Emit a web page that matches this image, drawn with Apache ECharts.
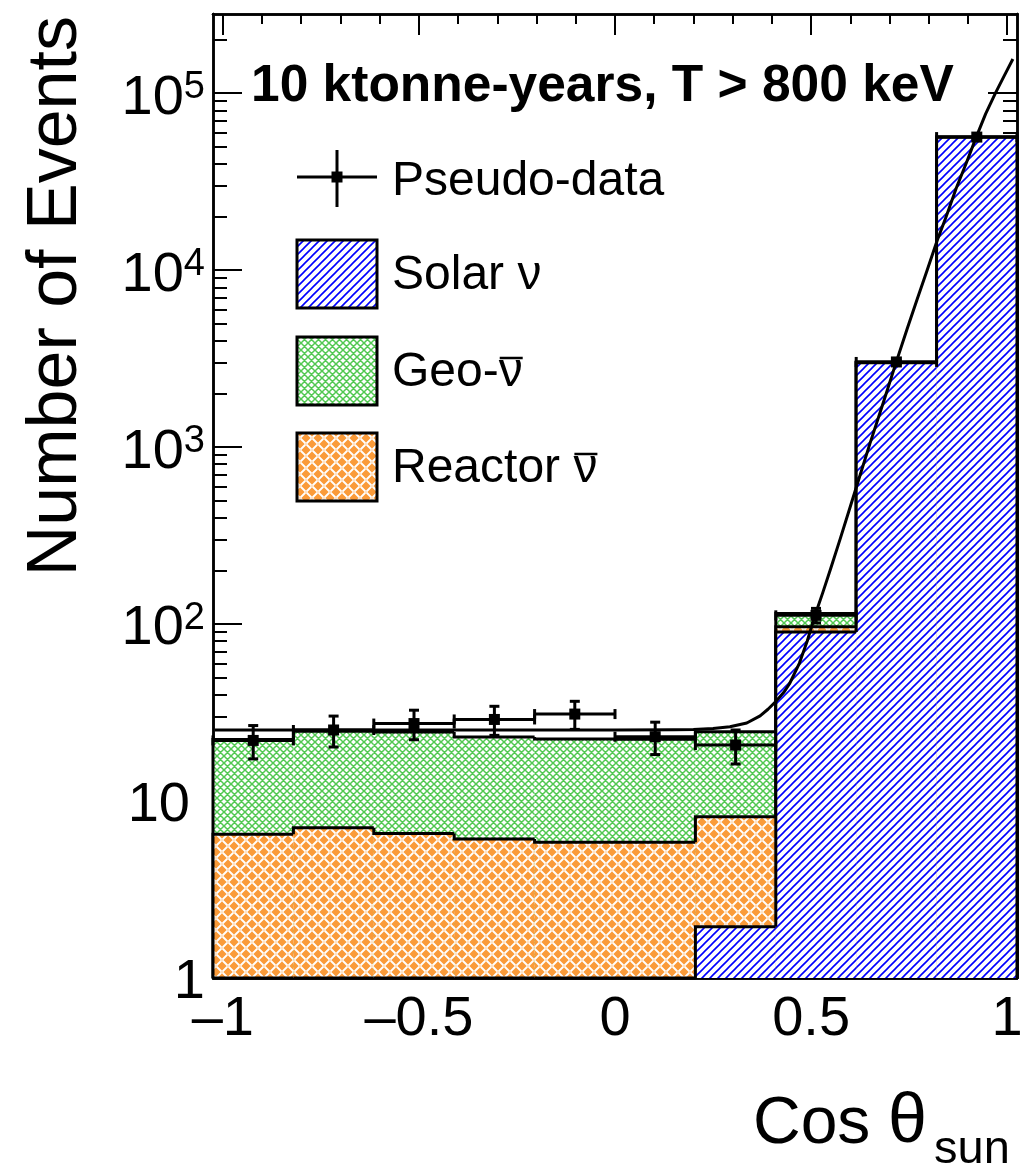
<!DOCTYPE html>
<html>
<head>
<meta charset="utf-8">
<script src="https://cdn.jsdelivr.net/npm/echarts@6/dist/echarts.min.js"></script>
<style>
  html, body { margin: 0; padding: 0; background: #ffffff; }
  #chart { width: 1031px; height: 1170px; }
</style>
</head>
<body>
<div id="chart"></div>
<script>
// Histogram binning in cos(theta_sun)
const binEdges = [-1.025, -0.82, -0.615, -0.41, -0.205, 0, 0.205, 0.41, 0.615, 0.82, 1.025];

// Expected events per bin, by component
const solarNu   = [0, 0, 0, 0, 0, 0, 1.95, 90.3, 3000, 56400];
const reactorNu = [6.5, 7.06, 6.56, 6.1, 5.84, 5.85, 6.2, 6.1, 6.0, 6.0];
const geoNu     = [15.8, 17.7, 18.0, 16.9, 16.6, 16.5, 16.5, 18.4, 17.0, 17.0];

// Pseudo-data points (bin centres, counts, statistical errors)
const dataX   = [-0.9225, -0.7175, -0.5125, -0.3075, -0.1025, 0.1025, 0.3075, 0.5125, 0.7175, 0.9225];
const dataY   = [22.0, 25.2, 27.4, 28.9, 31.0, 23.1, 20.7, 112, 3027, 56450];
const dataErr = [4.7, 5.0, 5.2, 5.4, 5.6, 4.8, 4.5, 10.6, 55, 238];

// Fitted curve (flat background plus forward solar peak)
const fitX = [-1.02, -0.5, 0.0, 0.15, 0.2, 0.25, 0.293, 0.336, 0.37, 0.39, 0.41, 0.43, 0.445, 0.47, 0.49, 0.51,
  0.53, 0.55, 0.575, 0.60, 0.625, 0.65, 0.685, 0.717, 0.745, 0.77, 0.795, 0.821, 0.845, 0.87, 0.895, 0.921,
  0.945, 0.97, 0.993, 1.0145];
const fitY = [25.2, 25.2, 25.2, 25.25, 25.4, 25.7, 26.3, 27.6, 30.3, 33, 36.5, 41, 46, 60, 80, 112,
  151, 206, 307, 462, 696, 1046, 1811, 3020, 4660, 6800, 9860, 14600, 20200, 29000, 39900, 56400,
  76400, 100000, 126000, 156000];

// Axis ticks and labels
const xMajorTicks = [-1, -0.5, 0, 0.5, 1];
const xMinorTicks = [-0.9, -0.8, -0.7, -0.6, -0.4, -0.3, -0.2, -0.1, 0.1, 0.2, 0.3, 0.4, 0.6, 0.7, 0.8, 0.9];
const yMajorTicks = [1, 10, 100, 1000, 10000, 100000];
const yMinorTicks = [2, 3, 4, 5, 6, 7, 8, 9,
  20, 30, 40, 50, 60, 70, 80, 90,
  200, 300, 400, 500, 600, 700, 800, 900,
  2000, 3000, 4000, 5000, 6000, 7000, 8000, 9000,
  20000, 30000, 40000, 50000, 60000, 70000, 80000, 90000,
  200000];

const X_MIN = -1.025, X_MAX = 1.025, Y_MIN = 1, Y_MAX = 2.8e5;
const FONT = "'Liberation Sans', Arial, Helvetica, sans-serif";

// ---- fill patterns ----
function makeTile(w, h, bg, draw) {
  const c = document.createElement('canvas');
  c.width = w; c.height = h;
  const g = c.getContext('2d');
  g.fillStyle = bg; g.fillRect(0, 0, w, h);
  draw(g, w, h);
  return { image: c, repeat: 'repeat' };
}
// single "/" hatch, blue
const solarFill = makeTile(8, 8, '#ffffff', (g) => {
  g.strokeStyle = '#0000ff'; g.lineWidth = 1.6; g.beginPath();
  for (const c of [0, 8, 16]) { g.moveTo(c - 10, 10); g.lineTo(c + 2, -2); }
  g.stroke();
});
// diamond cross-hatch, green
const geoFill = makeTile(7, 7, '#ffffff', (g) => {
  g.strokeStyle = '#52c852'; g.lineWidth = 1.5; g.beginPath();
  for (const c of [-7, 0, 7, 14]) {
    g.moveTo(c - 2, 9); g.lineTo(c + 9, -2);
    g.moveTo(c - 2, -2); g.lineTo(c + 9, 9);
  }
  g.stroke();
});
// basket weave, orange
const reactorFill = makeTile(12, 12, '#fa9b3a', (g) => {
  g.strokeStyle = '#ffffff'; g.lineWidth = 1.8; g.lineCap = 'round'; g.beginPath();
  g.moveTo(1, 5); g.lineTo(5, 1);
  g.moveTo(7, 11); g.lineTo(11, 7);
  g.moveTo(7, 1); g.lineTo(11, 5);
  g.moveTo(1, 7); g.lineTo(5, 11);
  g.stroke();
});

// ---- stacked histogram layers (cumulative sums) ----
const cumSolar   = solarNu.map(v => v);
const cumReactor = solarNu.map((v, i) => v + reactorNu[i]);
const cumTotal   = solarNu.map((v, i) => v + reactorNu[i] + geoNu[i]);

function stackLayer(name, cum, fill, z) {
  const clamp = v => Math.max(v, Y_MIN);
  const data = cum.map((v, i) => [binEdges[i], binEdges[i + 1], clamp(v),
    i === 0 ? Y_MIN : clamp(cum[i - 1]), i === cum.length - 1 ? 1 : 0]);
  return {
    type: 'custom', name, z, xAxisIndex: 0, yAxisIndex: 0,
    data, encode: { x: [0, 1], y: 2 }, silent: true,
    renderItem(params, api) {
      const x0 = api.value(0), x1 = api.value(1), top = api.value(2), prev = api.value(3);
      const pBL = api.coord([x0, Y_MIN]);
      const pTL = api.coord([x0, top]);
      const pTR = api.coord([x1, top]);
      const pPrev = api.coord([x0, prev]);
      const pBR = api.coord([x1, Y_MIN]);
      const pts = [pPrev, pTL, pTR];
      if (api.value(4)) pts.push(pBR);
      return {
        type: 'group',
        children: [
          { type: 'rect', shape: { x: pTL[0], y: pTL[1], width: pTR[0] - pTL[0], height: pBL[1] - pTL[1] },
            style: { fill: fill } },
          { type: 'polyline', shape: { points: pts },
            style: { stroke: '#000000', lineWidth: 3, fill: null } }
        ]
      };
    }
  };
}

// ---- axes ----
function xAxisCfg(position, ticks, len, withLabels) {
  return {
    type: 'value', position, min: X_MIN, max: X_MAX,
    axisLine: { show: true, onZero: false, lineStyle: { color: '#000', width: 2.5 } },
    axisTick: { show: true, inside: true, length: len, customValues: ticks, lineStyle: { color: '#000', width: 2 } },
    axisLabel: withLabels ? {
      show: true, customValues: ticks, margin: 14, color: '#000', fontSize: 56, fontFamily: FONT,
      formatter: v => (v < 0 ? '\u2013' + Math.abs(v) : String(v))
    } : { show: false },
    splitLine: { show: false }
  };
}
function yAxisCfg(position, ticks, len, withLabels) {
  return {
    type: 'log', logBase: 10, position, min: Y_MIN, max: Y_MAX,
    axisLine: { show: true, onZero: false, lineStyle: { color: '#000', width: 2.5 } },
    axisTick: { show: true, inside: true, length: len, customValues: ticks, lineStyle: { color: '#000', width: 2 } },
    axisLabel: withLabels ? {
      show: true, customValues: ticks, margin: 8, color: '#000', padding: [10, 0, 0, 0],
      formatter: v => {
        const n = Math.round(Math.log10(v));
        if (n === 0) return '{one|1}';
        if (n === 1) return '{ten|10}';
        return '{b|10}{s|' + n + '}';
      },
      rich: {
        one: { fontSize: 56, fontFamily: FONT, color: '#000', lineHeight: 60, padding: [0, 0, 0, 0] },
        ten: { fontSize: 56, fontFamily: FONT, color: '#000', lineHeight: 60, padding: [0, 15, 0, 0] },
        b:   { fontSize: 56, fontFamily: FONT, color: '#000', lineHeight: 60 },
        s:   { fontSize: 38, fontFamily: FONT, color: '#000', lineHeight: 38, verticalAlign: 'top' }
      }
    } : { show: false },
    splitLine: { show: false }
  };
}

// ---- pseudo-data with error bars ----
const pointData = dataX.map((x, i) => [x, dataY[i], dataErr[i], binEdges[i], binEdges[i + 1]]);
const pointSeries = {
  type: 'custom', name: 'Pseudo-data', z: 6, xAxisIndex: 0, yAxisIndex: 0,
  data: pointData, encode: { x: 0, y: 1 }, silent: true,
  renderItem(params, api) {
    const x = api.value(0), y = api.value(1), e = api.value(2), x0 = api.value(3), x1 = api.value(4);
    const c = api.coord([x, y]);
    const l = api.coord([x0, y]), r = api.coord([x1, y]);
    const lo = api.coord([x, y - e]), hi = api.coord([x, y + e]);
    const cap = 5, m = 11;
    const ls = { stroke: '#000', lineWidth: 3 };
    const line = (a, b, cc, d) => ({ type: 'line', shape: { x1: a, y1: b, x2: cc, y2: d }, style: ls });
    return {
      type: 'group',
      children: [
        line(l[0], l[1], r[0], r[1]),
        line(l[0], l[1] - cap, l[0], l[1] + cap),
        line(r[0], r[1] - cap, r[0], r[1] + cap),
        line(c[0], lo[1], c[0], hi[1]),
        line(c[0] - cap, lo[1], c[0] + cap, lo[1]),
        line(c[0] - cap, hi[1], c[0] + cap, hi[1]),
        { type: 'rect', shape: { x: c[0] - m / 2, y: c[1] - m / 2, width: m, height: m }, style: { fill: '#000' } }
      ]
    };
  }
};

// ---- text measurement helper ----
const measureCtx = document.createElement('canvas').getContext('2d');
function textWidth(str, size) {
  measureCtx.font = size + 'px ' + FONT;
  return measureCtx.measureText(str).width;
}

// ---- legend drawing ----
const LEG_X = 297, LEG_W = 80, LEG_H = 68, TXT_X = 392, LEG_FONT = 48;
const legendItems = [
  { prefix: 'Solar ', bar: false, fill: solarFill, top: 240 },
  { prefix: 'Geo-', bar: true, fill: geoFill, top: 337 },
  { prefix: 'Reactor ', bar: true, fill: reactorFill, top: 433 }
];
const graphics = [];
// Pseudo-data symbol
graphics.push(
  { type: 'line', z: 100, shape: { x1: LEG_X, y1: 177, x2: LEG_X + LEG_W, y2: 177 }, style: { stroke: '#000', lineWidth: 3 } },
  { type: 'line', z: 100, shape: { x1: LEG_X + LEG_W / 2, y1: 150, x2: LEG_X + LEG_W / 2, y2: 207 }, style: { stroke: '#000', lineWidth: 3 } },
  { type: 'rect', z: 100, shape: { x: LEG_X + LEG_W / 2 - 5.5, y: 177 - 5.5, width: 11, height: 11 }, style: { fill: '#000' } },
  { type: 'text', z: 100, x: TXT_X, y: 182, style: { text: 'Pseudo-data', fontSize: LEG_FONT, fontFamily: FONT, fill: '#000', align: 'left', verticalAlign: 'middle' } }
);
legendItems.forEach(it => {
  const cy = it.top + 36;
  graphics.push(
    { type: 'rect', z: 100, shape: { x: LEG_X, y: it.top, width: LEG_W, height: LEG_H }, style: { fill: it.fill, stroke: '#000', lineWidth: 3 } },
    { type: 'text', z: 100, x: TXT_X, y: cy, style: { text: it.prefix + '\u03bd', fontSize: LEG_FONT, fontFamily: FONT, fill: '#000', align: 'left', verticalAlign: 'middle' } }
  );
  if (it.bar) {
    // overline marking the antineutrino
    const nx = TXT_X + textWidth(it.prefix, LEG_FONT);
    const nw = textWidth('\u03bd', LEG_FONT);
    graphics.push({ type: 'line', z: 100, shape: { x1: nx + 1, y1: cy - 15, x2: nx + nw, y2: cy - 15 }, style: { stroke: '#000', lineWidth: 2.5 } });
  }
});
// Exposure / threshold caption
graphics.push({ type: 'text', z: 100, x: 251, y: 87,
  style: { text: '10 ktonne-years, T > 800 keV', fontSize: 51.5, fontWeight: 'bold', fontFamily: FONT, fill: '#000', align: 'left', verticalAlign: 'middle' } });
// Axis titles
graphics.push({ type: 'text', z: 100, x: 57, y: 16, rotation: Math.PI / 2,
  style: { text: 'Number of Events', fontSize: 70, fontFamily: FONT, fill: '#000', align: 'right', verticalAlign: 'middle' } });
graphics.push({ type: 'text', z: 100, x: 753, y: 1125,
  style: { text: 'Cos', fontSize: 66, fontFamily: FONT, fill: '#000', align: 'left', verticalAlign: 'middle' } });
graphics.push({ type: 'text', z: 100, x: 888, y: 1123,
  style: { text: '\u03b8', fontSize: 70, fontFamily: FONT, fill: '#000', align: 'left', verticalAlign: 'middle' } });
graphics.push({ type: 'text', z: 100, x: 934, y: 1150,
  style: { text: 'sun', fontSize: 47, fontFamily: FONT, fill: '#000', align: 'left', verticalAlign: 'middle' } });

const chart = echarts.init(document.getElementById('chart'), null, { renderer: 'canvas' });
chart.setOption({
  animation: false,
  backgroundColor: '#ffffff',
  textStyle: { fontFamily: FONT },
  grid: { left: 213, right: 14, top: 14, bottom: 192, containLabel: false, outerBoundsMode: 'none' },
  xAxis: [
    xAxisCfg('bottom', xMajorTicks, 21, true),
    xAxisCfg('bottom', xMinorTicks, 10, false),
    xAxisCfg('top', xMajorTicks, 21, false),
    xAxisCfg('top', xMinorTicks, 10, false)
  ],
  yAxis: [
    yAxisCfg('left', yMajorTicks, 29, true),
    yAxisCfg('left', yMinorTicks, 14, false),
    yAxisCfg('right', yMajorTicks, 29, false),
    yAxisCfg('right', yMinorTicks, 14, false)
  ],
  series: [
    stackLayer('Geo antineutrinos', cumTotal, geoFill, 1),
    stackLayer('Reactor antineutrinos', cumReactor, reactorFill, 2),
    stackLayer('Solar neutrinos', cumSolar, solarFill, 3),
    {
      type: 'line', name: 'Fit', z: 5, xAxisIndex: 0, yAxisIndex: 0,
      data: fitX.map((x, i) => [x, fitY[i]]),
      smooth: false, showSymbol: false, symbol: 'none', silent: true,
      lineStyle: { color: '#000', width: 3, join: 'round' }
    },
    pointSeries
  ],
  graphic: graphics
});
</script>
</body>
</html>
